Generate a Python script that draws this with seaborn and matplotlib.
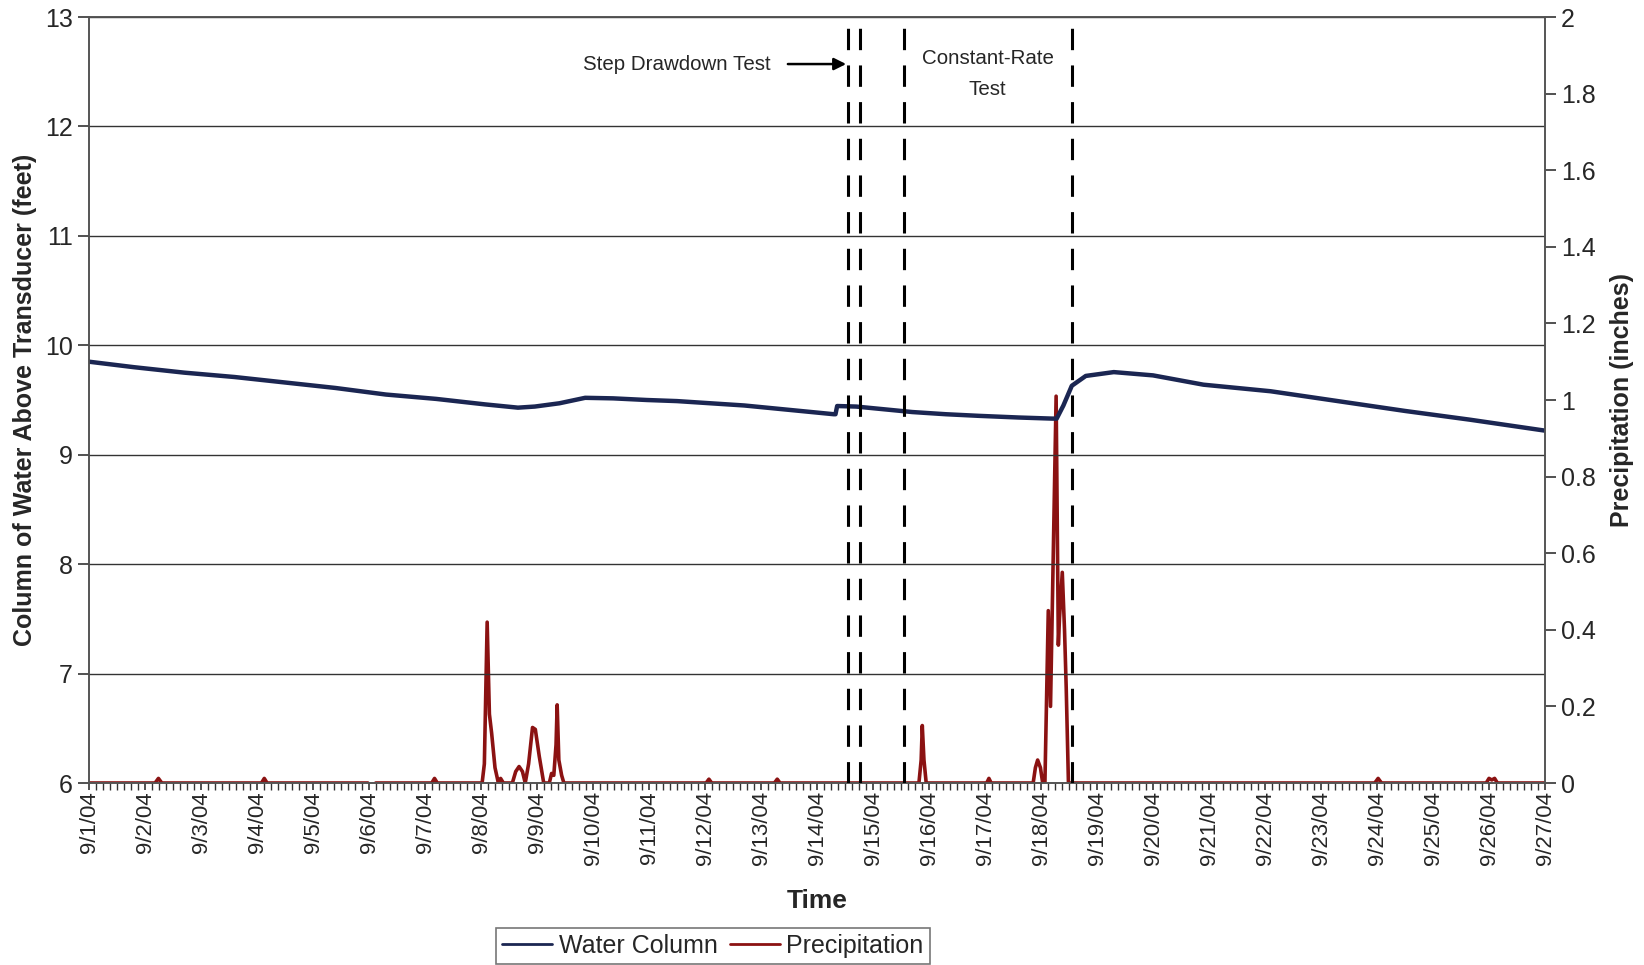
import numpy as np
import pandas as pd
import matplotlib
matplotlib.use("Agg")
import matplotlib.pyplot as plt
import matplotlib.dates as mdates
from matplotlib.lines import Line2D
from matplotlib.ticker import FuncFormatter, MultipleLocator
import seaborn as sns

sns.set_theme(style="white")
plt.rcParams["font.family"] = ["Liberation Sans", "DejaVu Sans"]

# days since 9/1/04 00:00
water_days = [0.0, 0.8, 1.7, 2.6, 3.5, 4.4, 5.3, 6.2, 7.07, 7.66, 7.96, 8.4, 8.86, 9.36, 9.96,
              10.5, 11.1, 11.7, 12.3, 12.9, 13.3, 13.33, 13.36, 13.7, 14.2, 14.7, 15.3, 15.9,
              16.6, 17.2, 17.28, 17.4, 17.55, 17.8, 18.3, 19.0, 19.9, 20.5, 21.1, 22.3, 23.5,
              24.66, 26.0]
water_ft = [9.85, 9.80, 9.75, 9.71, 9.66, 9.61, 9.55, 9.51, 9.46, 9.43, 9.44, 9.47, 9.52, 9.515, 9.50,
            9.49, 9.47, 9.45, 9.42, 9.39, 9.37, 9.37, 9.445, 9.44, 9.415, 9.39, 9.37, 9.355,
            9.34, 9.33, 9.33, 9.45, 9.63, 9.72, 9.755, 9.725, 9.64, 9.61, 9.58, 9.49, 9.40,
            9.32, 9.22]

precip_days = [0.0, 1.18, 1.24, 1.30, 3.08, 3.13, 3.18, 4.98,
               5.12, 6.12, 6.17, 6.22, 7.02, 7.06, 7.11, 7.15, 7.19, 7.25, 7.31, 7.35, 7.40,
               7.56, 7.62, 7.68, 7.74, 7.79, 7.85, 7.92, 7.97, 8.04, 8.12, 8.22, 8.26, 8.30,
               8.34, 8.36, 8.39, 8.44, 8.48, 11.02, 11.07, 11.12, 12.24, 12.29, 12.34,
               14.82, 14.86, 14.88, 14.91, 14.95, 16.03, 16.07, 16.11, 16.86, 16.90, 16.94,
               16.99, 17.03, 17.07, 17.13, 17.17, 17.27, 17.31, 17.33, 17.38, 17.42, 17.45,
               17.49, 22.96, 23.02, 23.08, 24.95, 25.00, 25.05, 25.10, 25.15, 26.0]
precip_in = [0.0, 0.0, 0.012, 0.0, 0.0, 0.012, 0.0, 0.0,
             0.0, 0.0, 0.012, 0.0, 0.0, 0.05, 0.42, 0.18, 0.13, 0.04, 0.0, 0.012, 0.0,
             0.0, 0.03, 0.043, 0.03, 0.0, 0.05, 0.145, 0.14, 0.07, 0.0, 0.0, 0.025, 0.02,
             0.1, 0.204, 0.06, 0.02, 0.0, 0.0, 0.01, 0.0, 0.0, 0.01, 0.0,
             0.0, 0.06, 0.15, 0.06, 0.0, 0.0, 0.012, 0.0, 0.0, 0.04, 0.06,
             0.04, 0.0, 0.0, 0.45, 0.20, 1.01, 0.36, 0.43, 0.55, 0.40, 0.25,
             0.0, 0.0, 0.012, 0.0, 0.0, 0.012, 0.008, 0.012, 0.0, 0.0]
precip_seg = [0] * 8 + [1] * (len(precip_days) - 8)  # logger gap after 9/6

test_days = [13.56, 13.76, 14.55, 17.55]  # step drawdown start/end, constant-rate start/end

start = pd.Timestamp("2004-09-01")
water = pd.DataFrame({"time": start + pd.to_timedelta(water_days, unit="D"), "ft": water_ft})
precip = pd.DataFrame({"time": start + pd.to_timedelta(precip_days, unit="D"),
                       "inch": precip_in, "seg": precip_seg})

navy = "#1b2652"
red = "#8b1212"

fig = plt.figure(figsize=(16.44, 9.65), dpi=100)
ax = fig.add_axes([89 / 1644, 1 - 783 / 965, (1545 - 89) / 1644, (783 - 17) / 965])
ax2 = ax.twinx()

sns.lineplot(data=precip, x="time", y="inch", units="seg", estimator=None, ax=ax2,
             color=red, linewidth=2.6)
sns.lineplot(data=water, x="time", y="ft", ax=ax, color=navy, linewidth=3.2)
ax.set_zorder(ax2.get_zorder() + 1)
ax.patch.set_visible(False)

for d in test_days:
    ax.axvline(start + pd.Timedelta(days=d), color="black", linewidth=2.2,
               linestyle=(0, (7, 5)), zorder=5)

ax.set_xlim(start, start + pd.Timedelta(days=26))
ax.set_ylim(6, 13)
ax2.set_ylim(0, 2)
ax.yaxis.set_major_locator(MultipleLocator(1))
ax2.yaxis.set_major_locator(MultipleLocator(0.2))
ax2.yaxis.set_major_formatter(FuncFormatter(lambda v, p: f"{v:g}"))
ax.xaxis.set_major_locator(mdates.DayLocator())
ax.xaxis.set_minor_locator(mdates.HourLocator(byhour=range(0, 24, 3)))
ax.xaxis.set_major_formatter(FuncFormatter(
    lambda v, p: f"{mdates.num2date(v).month}/{mdates.num2date(v).day}/{mdates.num2date(v).year % 100:02d}"))

ax.grid(axis="y", color="#333333", linewidth=1.0)
ax.grid(axis="x", visible=False)
ax2.grid(False)
for a in (ax, ax2):
    for s in a.spines.values():
        s.set_color("#555555")
        s.set_linewidth(1.2)
ax.tick_params(axis="x", which="major", direction="out", length=5, width=1.2, color="#333333",
               labelsize=16, rotation=90, bottom=True, pad=1)
ax.tick_params(axis="x", which="minor", direction="out", length=5, width=1, color="#333333", bottom=True)
ax.tick_params(axis="y", direction="out", length=8, width=1.2, color="#333333", labelsize=18, left=True)
ax2.tick_params(axis="y", direction="out", length=8, width=1.2, color="#333333", labelsize=18, right=True)

ax.set_xlabel("Time", fontsize=19, fontweight="bold", labelpad=17)
ax.set_ylabel("Column of Water Above Transducer (feet)", fontsize=18, fontweight="bold", labelpad=6)
ax2.set_ylabel("Precipitation (inches)", fontsize=18, fontweight="bold", labelpad=10)

ax.text(start + pd.Timedelta(days=10.5), 12.57, "Step Drawdown Test", fontsize=14.8,
        ha="center", va="center")
ax.annotate("", xy=(start + pd.Timedelta(days=13.52), 12.57),
            xytext=(start + pd.Timedelta(days=12.48), 12.57),
            arrowprops=dict(arrowstyle="-|>", color="black", lw=1.8, mutation_scale=18,
                            shrinkA=0, shrinkB=0))
ax.text(start + pd.Timedelta(days=16.05), 12.48, "Constant-Rate\nTest", fontsize=14.8,
        ha="center", va="center", linespacing=1.75)

handles = [Line2D([], [], color=navy, linewidth=2), Line2D([], [], color=red, linewidth=2)]
leg = fig.legend(handles, ["Water Column", "Precipitation"], loc="upper center",
                 bbox_to_anchor=(713 / 1644, 1 - 915 / 965), ncol=2, fontsize=18, frameon=True,
                 fancybox=False, edgecolor="#555555", handlelength=2.0, handletextpad=0.25,
                 columnspacing=0.5, borderpad=0.25)
leg.get_frame().set_linewidth(1.2)

fig.savefig("out.png", dpi=100)
